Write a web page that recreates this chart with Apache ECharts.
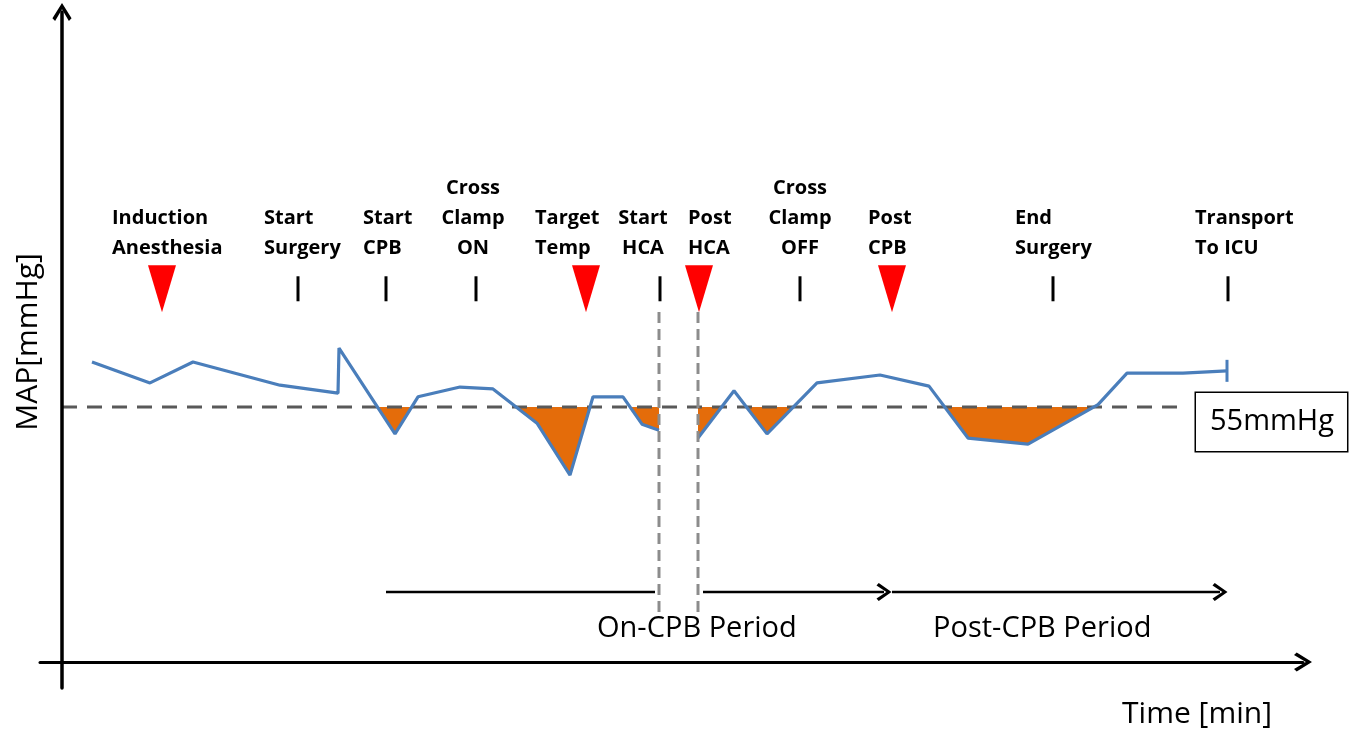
<!DOCTYPE html>
<html><head><meta charset="utf-8">
<script src="https://cdn.jsdelivr.net/npm/echarts@6/dist/echarts.min.js"></script>
<style>html,body{margin:0;padding:0;background:#fff}#c{width:1360px;height:735px}</style>
</head><body><div id="c"></div>
<script>
// ---- data (time in min, MAP in mmHg) ----
const mapTimes  = [15, 44, 65.5, 109, 138, 138.5, 166.5, 178, 199, 215.5, 237.5, 254, 265.5, 280.5, 290, 298.5, 308, 318, 336, 352.5, 377.5, 409, 433.5, 453, 483, 518, 532.5, 560.5, 582.5];
const mapValues = [64.7, 60.2, 64.7, 59.7, 58.0, 67.7, 49.2, 57.2, 59.3, 58.9, 51.5, 40.3, 57.2, 57.2, 51.3, 50.0, null, 48.3, 58.5, 49.2, 60.2, 61.9, 59.5, 48.3, 47.0, 55.5, 62.3, 62.3, 62.8];
const threshold = 55;
const thresholdLabel = '55mmHg';
const thresholdRange = [0, 561.5];
const eventNames = ['Induction\nAnesthesia', 'Start\nSurgery', 'Start\nCPB', 'Cross\nClamp\nON', 'Target\nTemp', 'Start\nHCA', 'Post\nHCA', 'Cross\nClamp\nOFF', 'Post\nCPB', 'End\nSurgery', 'Transport\nTo ICU'];
const eventTimes = [50, 118, 162, 207, 262, 299, 318.5, 369, 415, 495.5, 583];
const eventTypes = ['triangle', 'tick', 'tick', 'tick', 'triangle', 'tick', 'triangle', 'tick', 'triangle', 'tick', 'tick'];
const markerLevel = 80.5;
const hcaTimes = [298.5, 318];
const hcaLineRange = [10.8, 75.5];
const periodNames = ['On-CPB Period', 'Post-CPB Period'];
const periodStarts = [162, 415];
const periodEnds = [415, 583];
const periodLevel = 15.1;
const xAxisName = 'Time [min]';
const yAxisName = 'MAP[mmHg]';

// ---- styles ----
const FONT = '"Open Sans", Lato, sans-serif';
const CHEVRON = 'path://M5,0 L10,8 L8.6,9.4 L5,3.2 L1.4,9.4 L0,8 Z';
const labelLayout = [['left',-50],['left',-34],['left',-23],['center',-3],['left',-51],['center',-17],['left',-11],['center',0],['left',-24],['left',-38],['left',-33]];

const lineData = mapTimes.map((t,i)=>[t, mapValues[i]==null?null:mapValues[i]]);

// regions of the MAP curve below threshold (computed from data, drawn via axis scales)
function belowPolygons(){
  const segs=[]; let seg=[];
  for (let i=0;i<mapTimes.length;i++){
    if (mapValues[i]==null){ if(seg.length) segs.push(seg); seg=[]; }
    else seg.push([mapTimes[i], mapValues[i]]);
  }
  if (seg.length) segs.push(seg);
  const polys=[];
  segs.forEach(s=>{
    let poly=null;
    for (let i=0;i<s.length;i++){
      const t=s[i][0], v=s[i][1];
      if (i>0){
        const t0=s[i-1][0], v0=s[i-1][1];
        if ((v0<threshold)!==(v<threshold)){
          const tc=t0+(threshold-v0)/(v-v0)*(t-t0);
          if (v0<threshold){ poly.push([tc,threshold]); polys.push(poly); poly=null; }
          else poly=[[tc,threshold]];
        }
      } else if (v<threshold) poly=[[t,threshold]];
      if (v<threshold) poly.push([t,v]);
    }
    if (poly){ poly.push([s[s.length-1][0],threshold]); polys.push(poly); }
  });
  return polys;
}
const polys = belowPolygons();

const eventData = eventNames.map((name,i)=>{
  const tri = eventTypes[i]==='triangle';
  return {
    value:[eventTimes[i], markerLevel],
    symbol: tri?'triangle':'rect',
    symbolSize: tri?[28,47]:[3,25],
    symbolRotate: tri?180:0,
    itemStyle:{color: tri?'#FF0000':'#000000', opacity:1},
    label:{show:true, formatter:name, position:'top', distance: tri?2:13,
      align: labelLayout[i][0], offset:[labelLayout[i][1],0],
      fontFamily:FONT, fontWeight:'bold', fontSize:20, lineHeight:30, color:'#000'}
  };
});

const head = {symbol:CHEVRON, symbolSize:[18,15], symbolRotate:-90};
const periodData = [
  [periodStarts[0], periodLevel], [hcaTimes[0]-2, periodLevel], [hcaTimes[0]+5, null],
  [hcaTimes[1]+2.5, periodLevel], Object.assign({value:[periodEnds[0]-4, periodLevel]}, head), [periodEnds[0]-2, null],
  [periodStarts[1], periodLevel], Object.assign({value:[periodEnds[1]-4, periodLevel]}, head)
];

const hcaData = [];
hcaTimes.forEach((t,i)=>{ hcaData.push([t,hcaLineRange[0]],[t,hcaLineRange[1]]); if(i===0) hcaData.push([t+5,null]); });

const thrData = [[thresholdRange[0], threshold], [thresholdRange[1], threshold]];

const chart = echarts.init(document.getElementById('c'));
chart.setOption({
  animation:false,
  backgroundColor:'#fff',
  grid:{left:40, right:57, top:12, bottom:47, outerBoundsMode:'none', containLabel:false},
  xAxis:{type:'value', min:-11, max:620.5, z:10,
    axisLine:{onZero:true, lineStyle:{color:'#000', width:3}, symbol:['none',CHEVRON], symbolSize:[20,18]},
    axisTick:{show:false}, axisLabel:{show:false}, splitLine:{show:false}},
  yAxis:{type:'value', min:-5.608, max:140.196, z:10,
    axisLine:{onZero:true, lineStyle:{color:'#000', width:3.5}, symbol:['none',CHEVRON], symbolSize:[20,18]},
    axisTick:{show:false}, axisLabel:{show:false}, splitLine:{show:false}},
  graphic:[
    {type:'text', z:100, x:597, y:629, style:{text:periodNames[0], font:'29px '+FONT, fill:'#000', align:'left', verticalAlign:'middle'}},
    {type:'text', z:100, x:933, y:629, style:{text:periodNames[1], font:'29px '+FONT, fill:'#000', align:'left', verticalAlign:'middle'}},
    {type:'text', z:100, x:1197, y:714, style:{text:xAxisName, font:'30px '+FONT, fill:'#000', align:'center', verticalAlign:'middle'}},
    {type:'text', z:100, x:28, y:342, rotation:Math.PI/2, style:{text:yAxisName, font:'30px '+FONT, fill:'#000', align:'center', verticalAlign:'middle'}}
  ],
  series:[
    {type:'custom', z:1, silent:true, data:[[mapTimes[0], threshold]],
      renderItem:function(params, api){
        return {type:'group', children: polys.map(p=>({type:'polygon',
          shape:{points:p.map(q=>api.coord(q))}, style:{fill:'#E46C0A'}}))};
      }},
    {type:'line', z:4, data:thrData, symbol:'none', silent:true,
      lineStyle:{color:'#595959', width:3, type:[15,10]},
      endLabel:{show:true, formatter:thresholdLabel, distance:11, offset:[0,15],
        backgroundColor:'#fff', borderColor:'#000', borderWidth:1.5, padding:[9,13,9,14],
        fontFamily:FONT, fontSize:29, lineHeight:40, color:'#000'}},
    {type:'line', z:5, data:lineData.map((d,i)=> i===lineData.length-1 ? {value:d, symbol:'rect', symbolSize:[3,22]} : d),
      symbol:'none', silent:true, itemStyle:{color:'#4A7EBB'},
      lineStyle:{color:'#4A7EBB', width:3.2}},
    {type:'line', z:6, data:hcaData, symbol:'none', silent:true,
      lineStyle:{color:'#8C8C8C', width:3, type:[11,6]}},
    {type:'line', z:6, data:periodData, symbol:'none', silent:true, itemStyle:{color:'#000'},
      lineStyle:{color:'#000', width:2.5}},
    {type:'scatter', z:8, data:eventData, silent:true}
  ]
});
</script></body></html>
